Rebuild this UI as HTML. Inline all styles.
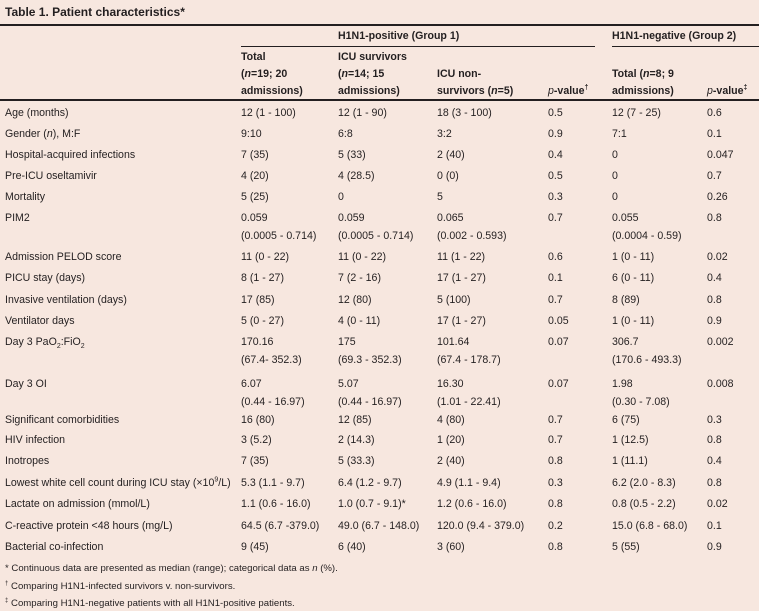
<!DOCTYPE html>
<html><head><meta charset="utf-8"><style>
html,body{margin:0;padding:0}
body{width:759px;height:608px;background:#f7e7df;position:relative;overflow:hidden;font-family:"Liberation Sans",sans-serif;color:#231f20;font-size:10.6px}
.t{position:absolute;white-space:nowrap;line-height:18px}
.h{line-height:17px}
.b{font-weight:bold}
sup,sub{line-height:0}
.l{position:absolute;background:#231f20}
.f{font-size:9.6px;line-height:14px}
</style></head><body>
<div class="t b" style="left:5px;top:3px;font-size:12px">Table 1. Patient characteristics*</div>
<div class="l" style="left:0;top:24px;width:759px;height:2px"></div>
<div class="t b" style="left:338px;top:27px">H1N1-positive (Group 1)</div>
<div class="t b" style="left:612px;top:27px">H1N1-negative (Group 2)</div>
<div class="l" style="left:241px;top:46px;width:354px;height:1px"></div>
<div class="l" style="left:612px;top:46px;width:147px;height:1px"></div>
<div class="t b h" style="left:241px;top:49px">Total<br>(<i>n</i>=19; 20<br>admissions)</div>
<div class="t b h" style="left:338px;top:49px">ICU survivors<br>(<i>n</i>=14; 15<br>admissions)</div>
<div class="t b h" style="left:437px;top:66px">ICU non-<br>survivors (<i>n</i>=5)</div>
<div class="t b h" style="left:548px;top:83px"><i style="font-weight:normal">p</i>-value<sup style="font-size:7px">†</sup></div>
<div class="t b h" style="left:612px;top:66px">Total (<i>n</i>=8; 9<br>admissions)</div>
<div class="t b h" style="left:707px;top:83px"><i style="font-weight:normal">p</i>-value<sup style="font-size:7px">‡</sup></div>
<div class="l" style="left:0;top:99px;width:759px;height:2px"></div>
<div id="rows"></div>
<div class="t f" style="left:5px;top:562px">* Continuous data are presented as median (range); categorical data as <i>n</i> (%).</div>
<div class="t f" style="left:5px;top:580px"><sup style="font-size:6px">†</sup> Comparing H1N1-infected survivors v. non-survivors.</div>
<div class="t f" style="left:5px;top:597px"><sup style="font-size:6px">‡</sup> Comparing H1N1-negative patients with all H1N1-positive patients.</div>
<script>
const labels=["Age (months)","Gender (<i>n</i>), M:F","Hospital-acquired infections","Pre-ICU oseltamivir","Mortality","PIM2","Admission PELOD score","PICU stay (days)","Invasive ventilation (days)","Ventilator days","Day 3 PaO<sub style='font-size:7px'>2</sub>:FiO<sub style='font-size:7px'>2</sub>","Day 3 OI","Significant comorbidities","HIV infection","Inotropes","Lowest white cell count during ICU stay (×10<sup style='font-size:7px'>9</sup>/L)","Lactate on admission (mmol/L)","C-reactive protein &lt;48 hours (mg/L)","Bacterial co-infection"];
const colTotal=["12 (1 - 100)","9:10","7 (35)","4 (20)","5 (25)","0.059<br>(0.0005 - 0.714)","11 (0 - 22)","8 (1 - 27)","17 (85)","5 (0 - 27)","170.16<br>(67.4- 352.3)","6.07<br>(0.44 - 16.97)","16 (80)","3 (5.2)","7 (35)","5.3 (1.1 - 9.7)","1.1 (0.6 - 16.0)","64.5 (6.7 -379.0)","9 (45)"];
const colSurv=["12 (1 - 90)","6:8","5 (33)","4 (28.5)","0","0.059<br>(0.0005 - 0.714)","11 (0 - 22)","7 (2 - 16)","12 (80)","4 (0 - 11)","175<br>(69.3 - 352.3)","5.07<br>(0.44 - 16.97)","12 (85)","2 (14.3)","5 (33.3)","6.4 (1.2 - 9.7)","1.0 (0.7 - 9.1)*","49.0 (6.7 - 148.0)","6 (40)"];
const colNon=["18 (3 - 100)","3:2","2 (40)","0 (0)","5","0.065<br>(0.002 - 0.593)","11 (1 - 22)","17 (1 - 27)","5 (100)","17 (1 - 27)","101.64<br>(67.4 - 178.7)","16.30<br>(1.01 - 22.41)","4 (80)","1 (20)","2 (40)","4.9 (1.1 - 9.4)","1.2 (0.6 - 16.0)","120.0 (9.4 - 379.0)","3 (60)"];
const colP1=["0.5","0.9","0.4","0.5","0.3","0.7","0.6","0.1","0.7","0.05","0.07","0.07","0.7","0.7","0.8","0.3","0.8","0.2","0.8"];
const colNeg=["12 (7 - 25)","7:1","0","0","0","0.055<br>(0.0004 - 0.59)","1 (0 - 11)","6 (0 - 11)","8 (89)","1 (0 - 11)","306.7<br>(170.6 - 493.3)","1.98<br>(0.30 - 7.08)","6 (75)","1 (12.5)","1 (11.1)","6.2 (2.0 - 8.3)","0.8 (0.5 - 2.2)","15.0 (6.8 - 68.0)","5 (55)"];
const colP2=["0.6","0.1","0.047","0.7","0.26","0.8","0.02","0.4","0.8","0.9","0.002","0.008","0.3","0.8","0.4","0.8","0.02","0.1","0.9"];
const rowTops=[104,125,146,167,188,209,248,269,291,312,333,375,411,431,452,474,495,517,538];
const cols=[[labels,5,'label'],[colTotal,241,'total'],[colSurv,338,'survivors'],[colNon,437,'nonsurvivors'],[colP1,548,'pvalue1'],[colNeg,612,'neg-total'],[colP2,707,'pvalue2']];
const root=document.getElementById('rows');
for(let i=0;i<labels.length;i++){
  for(const [arr,x,nm] of cols){
    const d=document.createElement('div');
    d.className='t';
    d.style.left=x+'px';d.style.top=rowTops[i]+'px';
    d.innerHTML=arr[i];
    
    
    root.appendChild(d);
  }
}
</script>
</body></html>
